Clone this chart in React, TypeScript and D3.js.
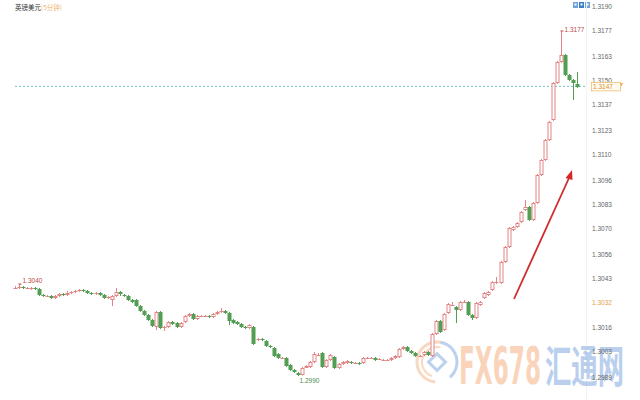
import React from "react";
import * as d3 from "d3";

const W = 640;
const H = 400;

const title = "英镑美元";
const subtitle = "(5分钟)";

const opens = [
  1.30378, 1.30378, 1.30383, 1.30378, 1.30378, 1.30378, 1.30372, 1.30340, 1.30334, 1.30334,
  1.30323, 1.30334, 1.30345, 1.30340, 1.30350, 1.30356, 1.30361, 1.30367, 1.30361, 1.30350,
  1.30345, 1.30350, 1.30340, 1.30323, 1.30313, 1.30334, 1.30356, 1.30340, 1.30334, 1.30313,
  1.30313, 1.30280, 1.30253, 1.30231, 1.30204, 1.30166, 1.30248, 1.30161, 1.30166, 1.30193,
  1.30188, 1.30166, 1.30193, 1.30226, 1.30237, 1.30210, 1.30226, 1.30226, 1.30226, 1.30220,
  1.30237, 1.30248, 1.30253, 1.30242, 1.30204, 1.30193, 1.30182, 1.30166, 1.30161, 1.30166,
  1.30096, 1.30101, 1.30090, 1.30063, 1.30052, 1.30020, 1.29998, 1.29998, 1.29960, 1.29933,
  1.29917, 1.29906, 1.29944, 1.29950, 1.29977, 1.30015, 1.30025, 1.29950, 1.29987, 1.30004,
  1.29944, 1.29966, 1.29971, 1.29977, 1.29971, 1.29971, 1.29971, 1.29998, 1.29998, 1.29998,
  1.29993, 1.29987, 1.29987, 1.29987, 1.29998, 1.30004, 1.30047, 1.30058, 1.30036, 1.30025,
  1.30009, 1.30015, 1.30031, 1.30009, 1.30128, 1.30199, 1.30150, 1.30242, 1.30285, 1.30275,
  1.30258, 1.30302, 1.30302, 1.30231, 1.30215, 1.30285, 1.30323, 1.30340, 1.30367, 1.30405,
  1.30405, 1.30518, 1.30600, 1.30692, 1.30708, 1.30735, 1.30800, 1.30816, 1.30746, 1.30838,
  1.30990, 1.31071, 1.31179, 1.31288, 1.31488, 1.31602, 1.31640, 1.31532, 1.31504, 1.31483,
];

const closes = [
  1.30378, 1.30383, 1.30378, 1.30378, 1.30378, 1.30372, 1.30340, 1.30334, 1.30334, 1.30323,
  1.30334, 1.30345, 1.30340, 1.30350, 1.30356, 1.30361, 1.30367, 1.30361, 1.30350, 1.30345,
  1.30350, 1.30340, 1.30323, 1.30329, 1.30334, 1.30356, 1.30345, 1.30334, 1.30313, 1.30302,
  1.30280, 1.30253, 1.30231, 1.30204, 1.30172, 1.30248, 1.30161, 1.30166, 1.30193, 1.30182,
  1.30166, 1.30188, 1.30226, 1.30237, 1.30210, 1.30226, 1.30226, 1.30226, 1.30220, 1.30237,
  1.30248, 1.30253, 1.30242, 1.30199, 1.30188, 1.30182, 1.30166, 1.30161, 1.30177, 1.30074,
  1.30101, 1.30096, 1.30063, 1.30058, 1.30009, 1.29998, 1.29998, 1.29955, 1.29933, 1.29922,
  1.29906, 1.29944, 1.29955, 1.29977, 1.30020, 1.30015, 1.29950, 1.29987, 1.30015, 1.29944,
  1.29966, 1.29977, 1.29982, 1.29971, 1.29971, 1.29966, 1.29998, 1.29998, 1.29998, 1.29987,
  1.29993, 1.29987, 1.29987, 1.29998, 1.30009, 1.30047, 1.30058, 1.30036, 1.30025, 1.30009,
  1.30009, 1.30031, 1.30015, 1.30128, 1.30199, 1.30139, 1.30237, 1.30291, 1.30285, 1.30258,
  1.30302, 1.30302, 1.30231, 1.30215, 1.30296, 1.30302, 1.30350, 1.30356, 1.30410, 1.30410,
  1.30518, 1.30600, 1.30703, 1.30708, 1.30730, 1.30789, 1.30816, 1.30746, 1.30838, 1.30990,
  1.31071, 1.31179, 1.31277, 1.31488, 1.31602, 1.31640, 1.31532, 1.31504, 1.31488, 1.31467,
];

const highs = [
  1.30388, 1.30399, 1.30388, 1.30383, 1.30383, 1.30383, 1.30378, 1.30345, 1.30340, 1.30340,
  1.30340, 1.30350, 1.30350, 1.30361, 1.30361, 1.30367, 1.30372, 1.30372, 1.30367, 1.30356,
  1.30356, 1.30356, 1.30345, 1.30334, 1.30340, 1.30378, 1.30361, 1.30345, 1.30340, 1.30318,
  1.30318, 1.30285, 1.30258, 1.30237, 1.30210, 1.30253, 1.30253, 1.30172, 1.30199, 1.30199,
  1.30193, 1.30193, 1.30231, 1.30242, 1.30242, 1.30231, 1.30231, 1.30231, 1.30231, 1.30242,
  1.30253, 1.30269, 1.30258, 1.30248, 1.30210, 1.30199, 1.30188, 1.30172, 1.30182, 1.30172,
  1.30107, 1.30107, 1.30096, 1.30069, 1.30058, 1.30025, 1.30004, 1.30004, 1.29966, 1.29939,
  1.29922, 1.29950, 1.29960, 1.29982, 1.30031, 1.30025, 1.30031, 1.29993, 1.30020, 1.30009,
  1.29971, 1.29982, 1.29987, 1.29982, 1.29977, 1.29977, 1.30004, 1.30004, 1.30004, 1.30004,
  1.29998, 1.29993, 1.29993, 1.30004, 1.30015, 1.30052, 1.30063, 1.30063, 1.30042, 1.30031,
  1.30015, 1.30036, 1.30036, 1.30134, 1.30204, 1.30204, 1.30242, 1.30296, 1.30302, 1.30280,
  1.30307, 1.30313, 1.30307, 1.30237, 1.30302, 1.30307, 1.30356, 1.30361, 1.30415, 1.30437,
  1.30524, 1.30605, 1.30708, 1.30713, 1.30735, 1.30795, 1.30854, 1.30822, 1.30843, 1.30995,
  1.31076, 1.31185, 1.31282, 1.31494, 1.31607, 1.31770, 1.31645, 1.31537, 1.31510, 1.31548,
];

const lows = [
  1.30372, 1.30372, 1.30372, 1.30372, 1.30367, 1.30367, 1.30334, 1.30329, 1.30329, 1.30318,
  1.30318, 1.30329, 1.30334, 1.30334, 1.30345, 1.30350, 1.30356, 1.30356, 1.30345, 1.30340,
  1.30340, 1.30334, 1.30318, 1.30318, 1.30280, 1.30329, 1.30334, 1.30329, 1.30307, 1.30296,
  1.30275, 1.30248, 1.30226, 1.30199, 1.30166, 1.30150, 1.30155, 1.30145, 1.30161, 1.30177,
  1.30161, 1.30161, 1.30188, 1.30220, 1.30204, 1.30204, 1.30220, 1.30220, 1.30215, 1.30215,
  1.30231, 1.30242, 1.30237, 1.30177, 1.30182, 1.30177, 1.30161, 1.30155, 1.30155, 1.30069,
  1.30090, 1.30090, 1.30058, 1.30052, 1.30004, 1.29993, 1.29993, 1.29950, 1.29928, 1.29917,
  1.29900, 1.29903, 1.29944, 1.29944, 1.29971, 1.30009, 1.29944, 1.29944, 1.29982, 1.29939,
  1.29939, 1.29960, 1.29966, 1.29966, 1.29966, 1.29960, 1.29966, 1.29993, 1.29993, 1.29982,
  1.29987, 1.29982, 1.29982, 1.29982, 1.29993, 1.29998, 1.30042, 1.30031, 1.30020, 1.30004,
  1.30004, 1.30009, 1.30009, 1.30004, 1.30123, 1.30134, 1.30145, 1.30237, 1.30280, 1.30188,
  1.30253, 1.30296, 1.30226, 1.30204, 1.30210, 1.30280, 1.30318, 1.30334, 1.30361, 1.30399,
  1.30399, 1.30513, 1.30594, 1.30686, 1.30703, 1.30730, 1.30795, 1.30741, 1.30741, 1.30833,
  1.30984, 1.31066, 1.31174, 1.31282, 1.31483, 1.31597, 1.31526, 1.31499, 1.31396, 1.31461,
];

const yTicks = [
  1.3190, 1.3177, 1.3163, 1.3150, 1.3137, 1.3123, 1.3110, 1.3096,
  1.3083, 1.3070, 1.3056, 1.3043, 1.3016, 1.3003, 1.2989,
];
const markPrice = 1.30296;
const markLabel = "1.3032";
const lastPrice = 1.3147;
const lastLabel = "1.3147";
const startIdx = 1;
const startLabel = "1.3040";
const highIdx = 135;
const highLabel = "1.3177";
const lowIdx = 70;
const lowLabel = "1.2990";

export default function App() {
  const idx = d3.range(opens.length);
  const x = d3.scaleBand<number>().domain(idx).range([13, 579]).paddingInner(0.25);
  const y = d3.scaleLinear().domain([1.2989, 1.3190]).range([378, 7]);
  const cx = (i: number) => Math.round((x(i) as number) + x.bandwidth() / 2) + 0.5;
  const bw = 3;
  const font = "Arial, 'Liberation Sans', sans-serif";
  const up = "#e38585";
  const down = "#529e52";
  const fmt = d3.format(".4f");
  const ly = y(lastPrice);

  return (
    <svg width={W} height={H} style={{ position: "fixed", left: 0, top: 0, background: "#fff" }} fontFamily={font}>
      <rect width={W} height={H} fill="#fff" />
      <text x={15} y={10} fontSize={6.5} fill="#333" fontFamily="'Noto Sans CJK SC', sans-serif">
        {title}
        <tspan fill="#f0b36a">{subtitle}</tspan>
      </text>
      {[0, 1, 2].map((k) => (
        <g key={k}>
          <rect x={573 + k * 6} y={2} width={5} height={6} fill={k === 1 ? "#3d7fc7" : "#6ea3d8"} />
          <rect x={574.5 + k * 6} y={3.5} width={2} height={2} fill="#fff" />
        </g>
      ))}
      <line x1={586.5} x2={586.5} y1={0} y2={H} stroke="#f2f2f2" />
      <g opacity={0.42}>
        <circle cx={437} cy={362} r={20} fill="none" stroke="#f2a46e" strokeWidth={3}
          strokeDasharray="70 60" transform="rotate(95 437 362)" />
        <circle cx={437} cy={362} r={15} fill="none" stroke="#f2a46e" strokeWidth={2}
          strokeDasharray="45 50" transform="rotate(110 437 362)" />
        <circle cx={437} cy={362} r={20} fill="none" stroke="#5e94d6" strokeWidth={3}
          strokeDasharray="45 90" transform="rotate(-80 437 362)" />
        <rect x={431} y={356} width={12} height={12} fill="none" stroke="#5e94d6" strokeWidth={3}
          transform="rotate(45 437 362)" />
        <text x={459} y={384} fontSize={52} fontWeight="bold" fill="#f59a5c" textLength={82}
          lengthAdjust="spacingAndGlyphs" fontFamily="'DejaVu Sans', sans-serif">FX678</text>
        <text x={545} y={383} fontSize={44} fontWeight="bold" fill="#5a8fd6" textLength={79}
          lengthAdjust="spacingAndGlyphs" fontFamily="'Noto Sans CJK SC', sans-serif">汇通网</text>
      </g>
      <line x1={15} x2={586} y1={ly} y2={ly} stroke="#6cc4c4" strokeDasharray="2,2" strokeWidth={1} />
      {idx.map((i) => {
        const o = opens[i], c = closes[i];
        const isUp = c >= o;
        const col = isUp ? up : down;
        const top = Math.round(y(Math.max(o, c)));
        const bot = Math.round(y(Math.min(o, c)));
        const h = Math.max(1, bot - top);
        const xc = cx(i);
        return (
          <g key={i}>
            <line x1={xc} x2={xc} y1={y(highs[i])} y2={y(lows[i])} stroke={col} strokeWidth={1} />
            {h <= 1 ? (
              <line x1={xc - 2} x2={xc + 2} y1={top + 0.5} y2={top + 0.5} stroke={col} strokeWidth={1} />
            ) : (
              <rect x={xc - bw / 2} y={top + 0.5} width={bw} height={h - 1 + 0.0001}
                fill={isUp ? "#fff" : col} stroke={col} strokeWidth={1} />
            )}
          </g>
        );
      })}
      <line x1={cx(startIdx) - 1} x2={cx(startIdx) + 2} y1={y(highs[startIdx])} y2={y(highs[startIdx])} stroke="#b94a48" />
      <text x={cx(startIdx) + 3} y={y(highs[startIdx]) - 1} fontSize={6.5} fill="#b94a48">{startLabel}</text>
      <line x1={cx(highIdx) - 1} x2={cx(highIdx) + 2} y1={y(highs[highIdx])} y2={y(highs[highIdx])} stroke="#b94a48" />
      <text x={cx(highIdx) + 3} y={y(highs[highIdx]) + 1} fontSize={6.5} fill="#b94a48">{highLabel}</text>
      <text x={cx(lowIdx) + 1} y={y(lows[lowIdx]) + 7} fontSize={6.5} fill="#4f8a4f">{lowLabel}</text>
      <line x1={514} y1={299} x2={569} y2={178} stroke="#d12a2a" strokeWidth={1.8} />
      <polygon points="572,170 565.5,178 572.5,180" fill="#d12a2a" />
      {yTicks.map((t) => (
        <text key={t} x={592} y={y(t)} dy="0.35em" fontSize={6.5} fill="#666">{fmt(t)}</text>
      ))}
      <text x={592} y={y(markPrice)} dy="0.35em" fontSize={6.5} fill="#e3a04a">{markLabel}</text>
      <rect x={591.5} y={ly - 4} width={29} height={8.5} fill="#fffaf0" stroke="#f0c070" strokeWidth={0.8} />
      <text x={593} y={ly + 0.3} dy="0.35em" fontSize={6.5} fill="#d9902a">{lastLabel}</text>
      <polygon points={`${620},${ly - 3} ${623},${ly - 3} ${621.5},${ly}`} fill="#f0a040" />
    </svg>
  );
}
